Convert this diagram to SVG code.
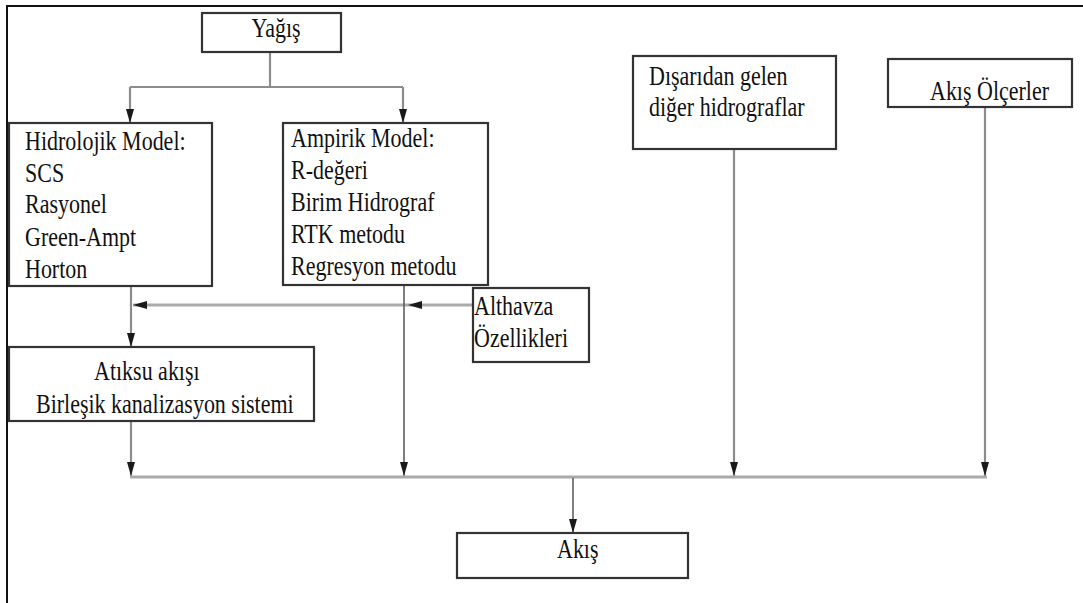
<svg xmlns="http://www.w3.org/2000/svg" width="1083" height="603" viewBox="0 0 1083 603">
<style>
  .frame { fill: none; stroke: #111; stroke-width: 2; }
  .box { fill: #fff; stroke: #333; stroke-width: 2.2; }
  .t { font-family: 'Liberation Serif', 'DejaVu Serif', serif; font-size: 22px; fill: #111; }
  .c1 { fill: none; stroke: #8c8c8c; stroke-width: 2.2; }
  .c2 { fill: none; stroke: #aaaaaa; stroke-width: 3; }
  .c3 { fill: none; stroke: #555; stroke-width: 1.5; }
</style>
<defs>
  <marker id="ah" viewBox="0 0 14 8" refX="14" refY="4" markerWidth="14" markerHeight="8" markerUnits="userSpaceOnUse" orient="auto">
    <path d="M0,0 L14,4 L0,8 z" fill="#1a1a1a"/>
  </marker>
</defs>
<rect width="1083" height="603" fill="#fff"/>
<path class="frame" d="M7,603 V6 H1083"/>

<g id="connectors">
  <path class="c1" d="M270,52 V87"/>
  <path class="c1" d="M130,87 H403"/>
  <path class="c1" d="M130,87 V123" marker-end="url(#ah)"/>
  <path class="c1" d="M403,87 V123" marker-end="url(#ah)"/>
  <path class="c1" d="M131,286 V347" marker-end="url(#ah)"/>
  <path class="c2" d="M473,305 H408" marker-end="url(#ah)"/>
  <path class="c2" d="M408,305 H133" marker-end="url(#ah)"/>
  <path class="c3" d="M404,285 V476" marker-end="url(#ah)"/>
  <path class="c1" d="M131,421 V476" marker-end="url(#ah)"/>
  <path class="c1" d="M734,149 V476" marker-end="url(#ah)"/>
  <path class="c1" d="M985,107 V476" marker-end="url(#ah)"/>
  <path class="c2" d="M130,477 H987"/>
  <path class="c3" d="M573,478 V533" marker-end="url(#ah)"/>
</g>

<g id="yagis">
  <rect class="box" x="202" y="13" width="139" height="39"/>
  <text class="t" transform="translate(276,37) scale(1,1.2)" text-anchor="middle">Yağış</text>
</g>

<g id="hidrolojik">
  <rect class="box" x="9" y="123" width="203" height="163"/>
  <text class="t" transform="translate(25,150) scale(1,1.2)">Hidrolojik Model:</text>
  <text class="t" transform="translate(25,182) scale(1,1.2)">SCS</text>
  <text class="t" transform="translate(25,213) scale(1,1.2)">Rasyonel</text>
  <text class="t" transform="translate(25,246) scale(1,1.2)">Green-Ampt</text>
  <text class="t" transform="translate(25,278) scale(1,1.2)">Horton</text>
</g>

<g id="ampirik">
  <rect class="box" x="283" y="123" width="205" height="162"/>
  <text class="t" transform="translate(291,147) scale(1,1.2)">Ampirik Model:</text>
  <text class="t" transform="translate(291,179) scale(1,1.2)">R-değeri</text>
  <text class="t" transform="translate(291,211) scale(1,1.2)">Birim Hidrograf</text>
  <text class="t" transform="translate(291,243) scale(1,1.2)">RTK metodu</text>
  <text class="t" transform="translate(291,275) scale(1,1.2)">Regresyon metodu</text>
</g>

<g id="disaridan">
  <rect class="box" x="633" y="56" width="203" height="93"/>
  <text class="t" transform="translate(649,85) scale(1,1.2)">Dışarıdan gelen</text>
  <text class="t" transform="translate(649,116) scale(1,1.2)">diğer hidrograflar</text>
</g>

<g id="akis-olcerler">
  <rect class="box" x="888" y="59" width="184" height="48"/>
  <text class="t" transform="translate(930,100) scale(1,1.2)">Akış Ölçerler</text>
</g>

<g id="althavza">
  <rect class="box" x="473" y="288" width="116" height="74"/>
  <text class="t" transform="translate(474,315) scale(1,1.2)">Althavza</text>
  <text class="t" transform="translate(474,347) scale(1,1.2)">Özellikleri</text>
</g>

<g id="atiksu">
  <rect class="box" x="9" y="347" width="305" height="74"/>
  <text class="t" transform="translate(94,380) scale(1,1.2)">Atıksu akışı</text>
  <text class="t" transform="translate(36,413) scale(1,1.2)">Birleşik kanalizasyon sistemi</text>
</g>

<g id="akis">
  <rect class="box" x="457" y="533" width="231" height="45"/>
  <text class="t" transform="translate(557,558) scale(1,1.2)">Akış</text>
</g>
</svg>
